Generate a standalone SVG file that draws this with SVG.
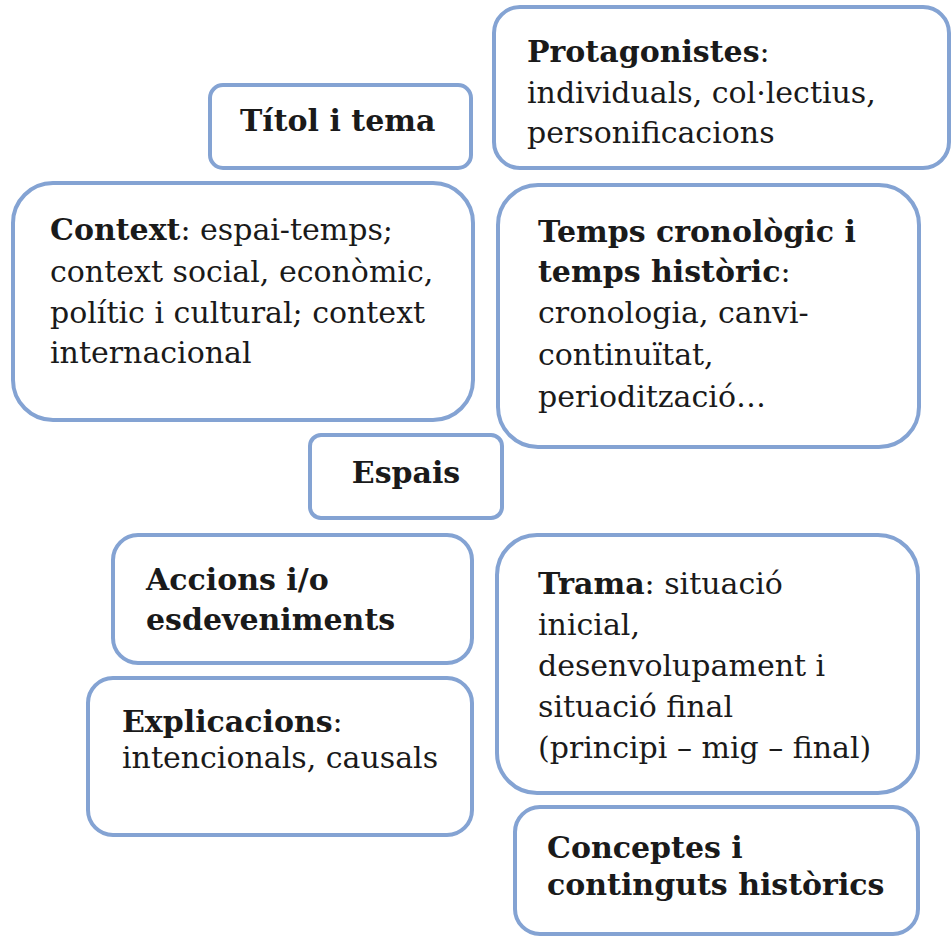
<svg xmlns="http://www.w3.org/2000/svg" width="951" height="937" viewBox="0 0 951 937">
<style>
.box{fill:#ffffff;stroke:#84a3d3;stroke-width:4}
text{font-family:"DejaVu Serif","Liberation Serif",serif;font-size:30px;fill:#1a1a1a}
.b{font-weight:bold}
</style>
<rect width="951" height="937" fill="#ffffff"/>
<g id="titol"><rect class="box" x="210" y="85" width="261" height="83" rx="13"/>
<text x="240" y="131" class="b">Títol i tema</text></g>
<g id="protagonistes"><rect class="box" x="494" y="7" width="455" height="161" rx="26"/>
<text x="527" y="62"><tspan class="b">Protagonistes</tspan>:</text>
<text x="527" y="103">individuals, col·lectius,</text>
<text x="527" y="143">personificacions</text></g>
<g id="context"><rect class="box" x="13" y="183" width="460" height="237" rx="40"/>
<text x="50" y="240"><tspan class="b">Context</tspan>: espai-temps;</text>
<text x="50" y="282">context social, econòmic,</text>
<text x="50" y="323">polític i cultural; context</text>
<text x="50" y="363">internacional</text></g>
<g id="temps"><rect class="box" x="498" y="185" width="421" height="262" rx="40"/>
<text x="538" y="242" class="b">Temps cronològic i</text>
<text x="538" y="282"><tspan class="b">temps històric</tspan>:</text>
<text x="538" y="323">cronologia, canvi-</text>
<text x="538" y="365">continuïtat,</text>
<text x="538" y="407">periodització…</text></g>
<g id="espais"><rect class="box" x="310" y="435" width="192" height="83" rx="11"/>
<text x="406" y="483" class="b" text-anchor="middle">Espais</text></g>
<g id="accions"><rect class="box" x="113" y="535" width="359" height="128" rx="25"/>
<text x="146" y="590" class="b">Accions i/o</text>
<text x="146" y="630" class="b">esdeveniments</text></g>
<g id="explicacions"><rect class="box" x="88" y="678" width="384" height="157" rx="25"/>
<text x="122" y="732"><tspan class="b">Explicacions</tspan>:</text>
<text x="122" y="768">intencionals, causals</text></g>
<g id="trama"><rect class="box" x="497" y="535" width="421" height="258" rx="40"/>
<text x="538" y="594"><tspan class="b">Trama</tspan>: situació</text>
<text x="538" y="635">inicial,</text>
<text x="538" y="676">desenvolupament i</text>
<text x="538" y="717">situació final</text>
<text x="538" y="758">(principi – mig – final)</text></g>
<g id="conceptes"><rect class="box" x="515" y="807" width="403" height="127" rx="25"/>
<text x="547" y="858" class="b">Conceptes i</text>
<text x="547" y="895" class="b">continguts històrics</text></g>
<g id="connectors"></g>
</svg>
